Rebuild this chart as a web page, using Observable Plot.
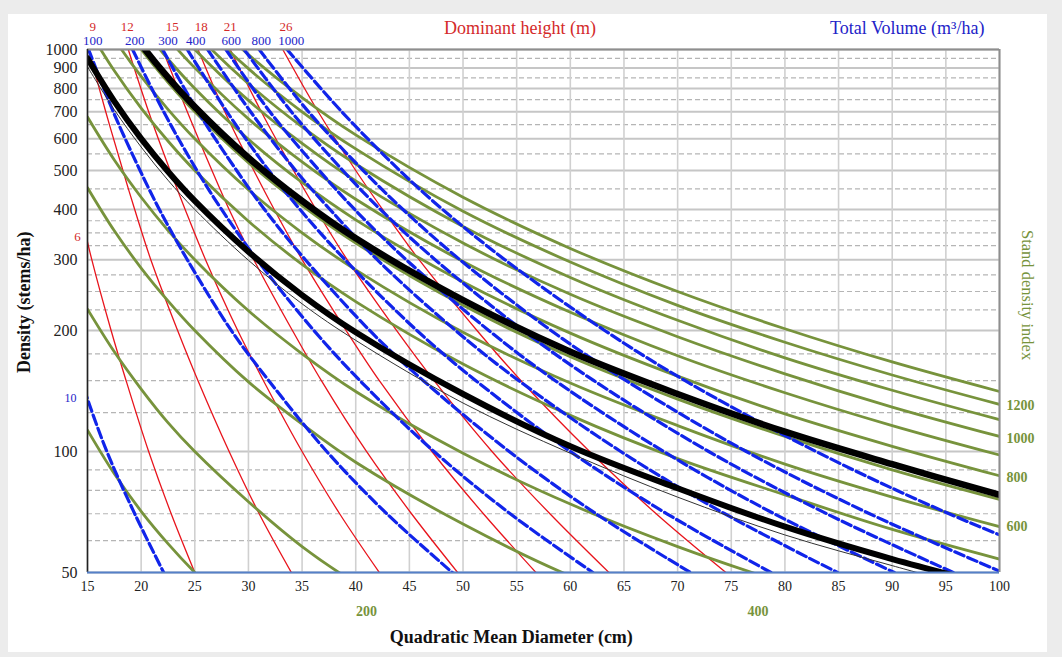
<!DOCTYPE html>
<html><head><meta charset="utf-8">
<script src="https://cdn.jsdelivr.net/npm/d3@7"></script>
<script src="https://cdn.jsdelivr.net/npm/@observablehq/plot@0.6"></script>
<style>
html,body{margin:0;padding:0;background:#ececec;}
#panel{position:absolute;left:8px;top:14px;width:1039px;height:638px;background:#fff;}
</style></head><body><div id="panel"></div>
<script>
// ---------- axes ----------
const xTicks = [15,20,25,30,35,40,45,50,55,60,65,70,75,80,85,90,95,100];
const yTicks = [50,100,200,300,400,500,600,700,800,900,1000];
const yMinor = [60,70,80,90,125,150,175,225,250,275,325,350,375,450,550,650,750,850,950];

// ---------- stand density index lines (green) ----------
const qmd = [15,17.5,20,22.5,25,30,35,40,50,60,70,80,90,100];
const sdiLevels = [50,100,200,300,500,600,700,800,900,1000,1100,1200,1300];
const sdiDensity = [
  [113,88,71,59,50,37,29,24,16,12,10,8,6,5],
  [226,177,143,118,100,75,58,47,33,25,19,16,13,11],
  [453,354,286,237,200,149,117,94,66,49,39,31,26,22],
  [679,531,429,355,300,224,175,141,99,74,58,47,39,33],
  [1132,885,715,592,500,374,292,236,165,123,96,78,64,54],
  [1358,1062,857,710,600,448,350,283,198,148,116,93,77,65],
  [1585,1239,1000,829,700,523,409,330,231,172,135,109,90,76],
  [1811,1416,1143,947,800,598,467,377,264,197,154,124,103,87],
  [2038,1593,1286,1065,900,672,525,424,297,222,173,140,116,98],
  [2264,1770,1429,1184,1000,747,584,471,330,246,193,156,129,109],
  [2491,1947,1572,1302,1100,822,642,519,363,271,212,171,142,120],
  [2717,2124,1715,1420,1200,896,700,566,396,296,231,187,155,131],
  [2943,2300,1858,1539,1300,971,759,613,429,320,250,202,167,141]
];
// black lines (same diameters as qmd)
const thinLine   = [906,708,572,473,400,299,233,189,132,99,77,62,52,44];
const lowerThick = [951,743,600,497,420,314,245,198,139,103,81,65,54,46];
const upperThick = [1630,1274,1029,852,720,538,420,339,238,177,139,112,93,78];

// ---------- dominant height (red) and volume (blue) lines ----------
const densLevels = [1000,700,500,400,300,200,150,100,70,50];
const heights = [6,9,12,15,18,21,26];
const heightDiam = [
  [11.1,12.3,13.4,14.3,15.4,17.2,18.6,20.7,22.8,25.0],
  [15.1,16.7,18.3,19.4,20.9,23.4,25.3,28.2,31.0,34.0],
  [18.8,20.7,22.7,24.1,26.0,29.0,31.4,35.0,38.5,42.2],
  [22.0,24.3,26.6,28.2,30.5,34.1,36.8,41.0,45.2,49.5],
  [25.3,27.8,30.5,32.4,35.0,39.1,42.2,47.1,51.9,56.8],
  [28.3,31.2,34.2,36.3,39.2,43.8,47.3,52.7,58.1,63.6],
  [33.2,36.5,40.0,42.5,45.9,51.3,55.4,61.8,68.0,74.5]
];
const volumes = [10,100,200,300,400,500,600,700,800,1000];
const volumeDiam = [
  [6.8,7.9,9.0,9.8,10.9,12.8,14.4,16.8,19.4,22.1],
  [15.1,17.4,19.9,21.7,24.3,28.4,31.9,37.3,42.9,49.0],
  [19.2,22.1,25.2,27.5,30.8,36.1,40.4,47.3,54.4,62.1],
  [22.0,25.3,28.9,31.5,35.3,41.3,46.3,54.3,62.4,71.2],
  [24.3,28.0,31.9,34.8,39.0,45.7,51.2,60.0,69.0,78.7],
  [26.2,30.2,34.4,37.6,42.0,49.3,55.2,64.7,74.4,84.9],
  [27.9,32.0,36.6,39.9,44.7,52.4,58.6,68.7,79.0,90.2],
  [29.6,34.0,38.8,42.3,47.4,55.6,62.2,72.9,83.9,95.7],
  [31.0,35.6,40.7,44.4,49.7,58.2,65.2,76.4,87.9,100.3],
  [33.6,38.7,44.1,48.1,53.9,63.2,70.7,82.9,95.3,108.8]
];

// ---------- labels ----------
const heightLabels = ["9","12","15","18","21","26"];
const heightLabelAt = [15.5,18.7,22.9,25.6,28.3,33.5];
const volumeLabels = ["100","200","300","400","600","800","1000"];
const volumeLabelAt = [15.5,19.4,22.5,25.1,28.4,31.2,34.0];
const sdiRightLabels = ["1200","1000","800","600"];
const sdiRightAt = [130,108,86,65];
const sdiBottomLabels = ["200","400"];
const sdiBottomAt = [41,77.5];

// ---------- tidy rows ----------
const greenRows = sdiLevels.flatMap((s,i)=>qmd.map((d,j)=>({k:s, D:d, N:sdiDensity[i][j]})));
const redRows = heights.flatMap((h,i)=>densLevels.map((n,j)=>({k:h, D:heightDiam[i][j], N:n})));
const blueRows = volumes.flatMap((v,i)=>densLevels.map((n,j)=>({k:v, D:volumeDiam[i][j], N:n})));
const rowsOf = arr => qmd.map((d,j)=>({D:d, N:arr[j]}));

const serif = "'Liberation Serif','Times New Roman',serif";
const green = "#77933c", red = "#e8141c", blue = "#1024ea";
const redText = "#d42a2a", blueText = "#2323c8";

const chart = Plot.plot({
  width: 1039, height: 638,
  marginLeft: 79, marginRight: 48, marginTop: 35, marginBottom: 80,
  style: {fontFamily: serif, background: "transparent", overflow: "visible"},
  x: {domain: [15,100]},
  y: {type: "log", domain: [50,1000]},
  marks: [
    Plot.ruleY(yMinor, {stroke: "#b5b5b5", strokeWidth: 1.2, strokeDasharray: "5,3"}),
    Plot.ruleY(yTicks, {stroke: "#c6c6c6", strokeWidth: 2}),
    Plot.ruleX(xTicks, {stroke: "#d0d0d0", strokeWidth: 1.6}),
    Plot.line(redRows, {x: "D", y: "N", z: "k", stroke: red, strokeWidth: 1.3, curve: "catmull-rom", clip: true}),
    Plot.line(greenRows, {x: "D", y: "N", z: "k", stroke: green, strokeWidth: 2.8, curve: "catmull-rom", clip: true}),
    Plot.line(blueRows, {x: "D", y: "N", z: "k", stroke: blue, strokeWidth: 3.2, strokeDasharray: "10,4", curve: "catmull-rom", clip: true}),
    Plot.line(rowsOf(thinLine), {x: "D", y: "N", stroke: "#333", strokeWidth: 1, curve: "catmull-rom", clip: true}),
    Plot.line(rowsOf(lowerThick), {x: "D", y: "N", stroke: "#000", strokeWidth: 6, curve: "catmull-rom", clip: true}),
    Plot.line(rowsOf(upperThick), {x: "D", y: "N", stroke: "#000", strokeWidth: 6.5, curve: "catmull-rom", clip: true}),
    Plot.ruleX([100], {stroke: "#8e8e8e", strokeWidth: 2}),
    Plot.ruleY([1000], {stroke: "#8e8e8e", strokeWidth: 2}),
    Plot.ruleX([15], {stroke: "#222", strokeWidth: 1.6}),
    Plot.ruleY([50], {stroke: "#5580c8", strokeWidth: 2}),
    Plot.axisX(xTicks, {tickSize: 0, tickPadding: 9, fontSize: 14, label: null, color: "#222", tickFormat: d => String(d)}),
    Plot.axisY(yTicks, {tickSize: 0, tickPadding: 10, fontSize: 16, label: null, color: "#222", tickFormat: d => String(d)}),
    Plot.text(heightLabels, {x: (d,i) => heightLabelAt[i], text: d => d, frameAnchor: "top", lineAnchor: "middle", dy: -23, fill: redText, fontSize: 13}),
    Plot.text(volumeLabels, {x: (d,i) => volumeLabelAt[i], text: d => d, frameAnchor: "top", lineAnchor: "middle", dy: -9, fill: blueText, fontSize: 13}),
    Plot.text(["Dominant height (m)"], {x: 55.3, text: d => d, frameAnchor: "top", lineAnchor: "middle", dy: -21, fill: redText, fontSize: 18}),
    Plot.text(["Total Volume (m³/ha)"], {x: 91.4, text: d => d, frameAnchor: "top", lineAnchor: "middle", dy: -21, fill: blueText, fontSize: 18}),
    Plot.text(["6"], {x: 15, y: 342, text: d => d, dx: -10, fill: redText, fontSize: 13}),
    Plot.text(["10"], {x: 15, y: 136, text: d => d, dx: -17, fill: blueText, fontSize: 12}),
    Plot.text(sdiRightLabels, {x: 100, y: (d,i) => sdiRightAt[i], text: d => d, dx: 7, textAnchor: "start", fill: green, fontSize: 14, fontWeight: "bold"}),
    Plot.text(sdiBottomLabels, {x: (d,i) => sdiBottomAt[i], text: d => d, frameAnchor: "bottom", lineAnchor: "middle", dy: 39, fill: green, fontSize: 14, fontWeight: "bold"}),
    Plot.text(["Stand density index"], {x: 100, y: 245, text: d => d, dx: 28, rotate: 90, fill: green, fontSize: 16.5}),
    Plot.text(["Density (stems/ha)"], {x: 15, y: 235, text: d => d, dx: -63, rotate: -90, fill: "#111", fontSize: 18, fontWeight: "bold"}),
    Plot.text(["Quadratic Mean Diameter (cm)"], {x: 54.5, text: d => d, frameAnchor: "bottom", lineAnchor: "middle", dy: 65, fill: "#111", fontSize: 18, fontWeight: "bold"})
  ]
});
document.getElementById("panel").appendChild(chart);
</script></body></html>
